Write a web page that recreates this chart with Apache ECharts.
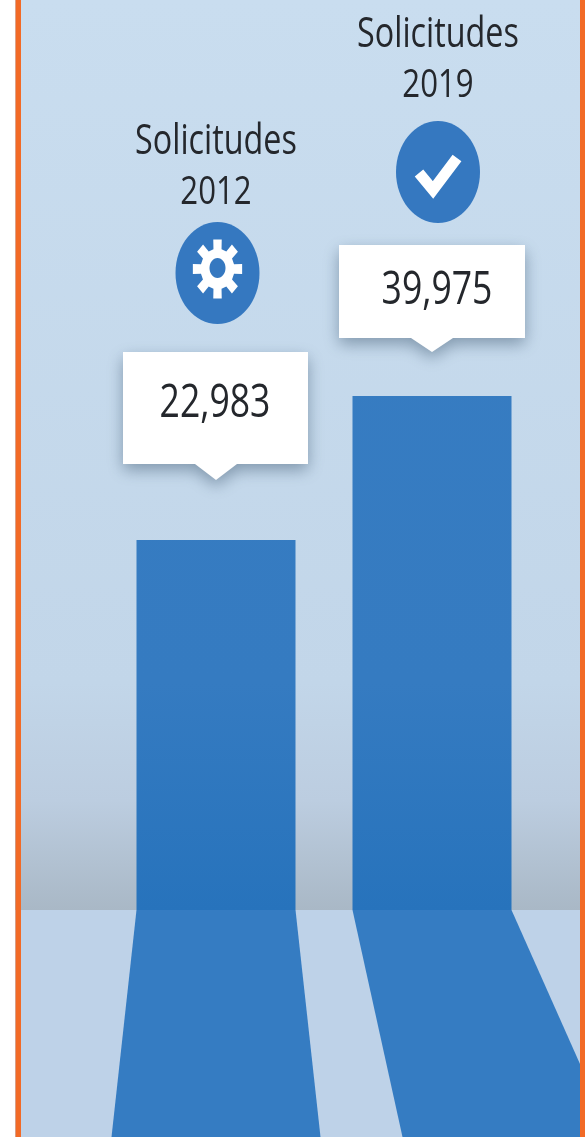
<!DOCTYPE html>
<html>
<head>
<meta charset="utf-8">
<style>
html, body { margin: 0; padding: 0; background: #fff; }
#main { width: 585px; height: 1137px; }
</style>
<script src="https://cdn.jsdelivr.net/npm/echarts@6/dist/echarts.min.js"></script>
</head>
<body>
<div id="main"></div>
<script>
const years = ["2012", "2019"];
const headingWord = "Solicitudes";
const solicitudes = [22983, 39975];

// the picture's bars are not drawn from zero, this min and max reproduce its scale
const axisMin = -20677;
const axisMax = 86698;

const fontName = '"Open Sans", sans-serif';
const textColor = "#24272c";
const iconColor = "#3578c0";
const barWidth = 159;

// offsets from the top centre of each bar
const layout = [
	{box: [-93, 92, -188, -76, -60], value: [-1, -136], icon: [1.5, -267], head: [0, -398, -347], shadow: [-25, 25], mark: "gear"},
	{box: [-93, 93, -151, -58, -44], value: [5, -105], icon: [6, -224], head: [6, -361, -310], shadow: [50, 101], mark: "check"}
];

function gearPoints(cx, cy){
	const pts = [];
	for(let i = 0; i < 8; i++){
		const a = i * Math.PI / 4;
		[[0.68, -0.24], [1, -0.17], [1, 0.17], [0.68, 0.24]].forEach(function(p){
			pts.push([cx + 25 * p[0] * Math.cos(a + p[1]), cy + 30 * p[0] * Math.sin(a + p[1])]);
		});
	}
	return pts;
}

function textItem(text, x, y, size, sx){
	return {type: "text", x: x, y: y, scaleX: sx, scaleY: 1,
		style: {text: text, fontSize: size, fontFamily: fontName, fill: textColor, align: "center", verticalAlign: "middle"}};
}

function renderShadow(params, api){
	const l = layout[params.dataIndex];
	const base = api.coord([api.value(0), axisMin]);
	const h = base[1];
	const bottom = 227;
	return {type: "polygon", shape: {points: [
		[base[0] - barWidth / 2, h],
		[base[0] + barWidth / 2, h],
		[base[0] + barWidth / 2 + l.shadow[1], h + bottom],
		[base[0] - barWidth / 2 + l.shadow[0], h + bottom]
	]}, style: {fill: "#357cc2"}};
}

function renderBar(params, api){
	const top = api.coord([api.value(0), api.value(1)]);
	const base = api.coord([api.value(0), axisMin]);
	return {type: "rect", shape: {x: top[0] - barWidth / 2, y: top[1], width: barWidth, height: base[1] - top[1]},
		style: {fill: {
			type: "linear", global: true, x: 0, y: 0, x2: 0, y2: base[1],
			colorStops: [
				{offset: 0, color: "#387dc2"},
				{offset: 0.75, color: "#357bc1"},
				{offset: 1, color: "#2773bc"}
			]}}};
}

function renderNotes(params, api){
	const i = params.dataIndex;
	const l = layout[i];
	const top = api.coord([api.value(0), api.value(1)]);
	const x = top[0], y = top[1];
	const b = l.box;
	const kids = [];
	kids.push({type: "polygon", shape: {points: [
		[x + b[0], y + b[2]], [x + b[1], y + b[2]], [x + b[1], y + b[3]],
		[x + 21, y + b[3]], [x, y + b[4]], [x - 21, y + b[3]], [x + b[0], y + b[3]]
	]}, style: {fill: "#fff", shadowBlur: 16, shadowOffsetY: 6, shadowColor: "rgba(60,85,110,0.5)"}});
	kids.push(textItem(api.value(1).toLocaleString("en-US"), x + l.value[0], y + l.value[1], 45, 0.79));
	const ix = x + l.icon[0], iy = y + l.icon[1];
	kids.push({type: "ellipse", shape: {cx: ix, cy: iy, rx: 42, ry: 51}, style: {fill: iconColor}});
	if(l.mark == "gear"){
		kids.push({type: "polygon", shape: {points: gearPoints(ix, iy - 4)}, style: {fill: "#fff"}});
		kids.push({type: "ellipse", shape: {cx: ix, cy: iy - 5, rx: 8, ry: 10}, style: {fill: iconColor}});
	}else{
		kids.push({type: "polyline", shape: {points: [[ix - 19, iy + 1], [ix - 5, iy + 18], [ix + 19, iy - 14]]},
			style: {stroke: "#fff", lineWidth: 11, fill: "none", lineJoin: "miter"}});
	}
	kids.push(textItem(headingWord, x + l.head[0], y + l.head[1], 42, 0.77));
	kids.push(textItem(years[i], x + l.head[0], y + l.head[2], 39, 0.8));
	return {type: "group", children: kids};
}

const mychart = echarts.init(document.getElementById("main"));
const points = solicitudes.map(function(v, i){return [i, v];});

const option = {
	animation: false,
	backgroundColor: "#fff",
	grid: {left: 108, width: 432, top: 0, height: 910},
	xAxis: {type: "category", data: years, show: false},
	yAxis: {type: "value", min: axisMin, max: axisMax, show: false},
	graphic: [
		{type: "rect", z: -10, shape: {x: 15, y: 0, width: 570, height: 910}, style: {fill: {
			type: "linear", x: 0, y: 0, x2: 0, y2: 1,
			colorStops: [
				{offset: 0, color: "#c9ddef"},
				{offset: 0.75, color: "#c2d6e9"},
				{offset: 0.88, color: "#bccde0"},
				{offset: 1, color: "#a9b8c6"}
			]}}},
		{type: "rect", z: -10, shape: {x: 15, y: 910, width: 570, height: 227}, style: {fill: "#bed2e8"}},
		{type: "rect", z: 100, zlevel: 1, shape: {x: 15.5, y: 0, width: 5.5, height: 1137}, style: {fill: "#f26a26"}},
		{type: "rect", z: 100, zlevel: 1, shape: {x: 580, y: 0, width: 5, height: 1137}, style: {fill: "#f26a26"}}
	],
	series: [
		{type: "custom", z: 1, data: points, renderItem: renderShadow, silent: true},
		{type: "custom", z: 2, data: points, renderItem: renderBar, silent: true},
		{type: "custom", z: 3, data: points, renderItem: renderNotes, silent: true}
	]
};
mychart.setOption(option);
</script>
</body>
</html>
